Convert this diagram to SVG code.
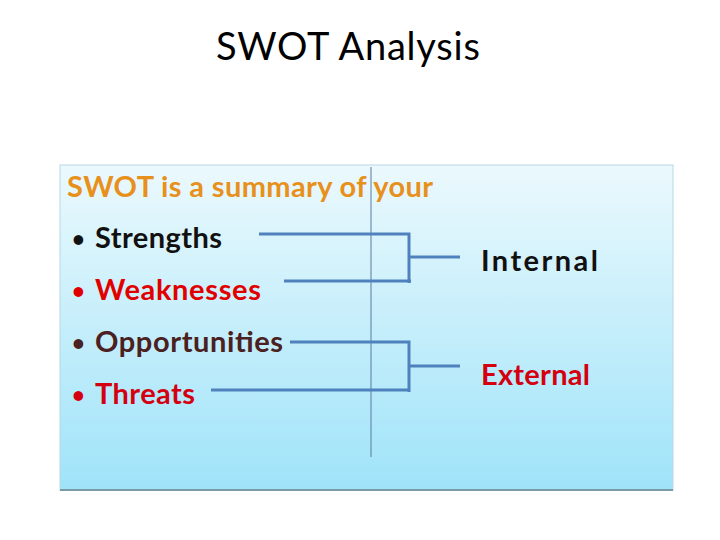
<svg xmlns="http://www.w3.org/2000/svg" width="720" height="540" viewBox="0 0 720 540">
<defs>
<linearGradient id="bg" x1="0" y1="0" x2="0" y2="1">
<stop offset="0" stop-color="#ebf9fd"/>
<stop offset="1" stop-color="#9fe3f9"/>
</linearGradient>
<style>
text{font-family:Lato,"Open Sans","Liberation Sans",sans-serif}
.b{font-weight:bold;font-size:29px}
.d{font-size:22px}
.c{fill:none;stroke:#4f81bd;stroke-width:3}
</style>
</defs>
<rect width="720" height="540" fill="#fff"/>
<text x="216" y="60" font-size="38" fill="#000" textLength="264">SWOT Analysis</text>
<g id="box">
<rect x="60" y="165" width="613" height="325" fill="url(#bg)" stroke="#b8d8e4" stroke-width="1"/>
<line x1="60" y1="490" x2="673" y2="490" stroke="#7a9aa6" stroke-width="2"/>
<line x1="371" y1="167" x2="371" y2="457" stroke="#5a7aa0" stroke-width="1"/>
</g>
<text class="b" x="67" y="197" font-size="27" fill="#e8901c" textLength="366">SWOT is a summary of your</text>
<g id="strengths"><text class="b d" x="72" y="247" fill="#111">•</text><text class="b" x="95" y="248" fill="#111" textLength="127">Strengths</text></g>
<g id="weaknesses"><text class="b d" x="72" y="299" fill="#e00000">•</text><text class="b" x="95" y="300" fill="#e00000" textLength="166">Weaknesses</text></g>
<g id="opportunities"><text class="b d" x="72" y="351" fill="#4a2020">•</text><text class="b" x="95" y="352" fill="#4a2020" textLength="188">Opportunities</text></g>
<g id="threats"><text class="b d" x="72" y="403" fill="#d40010">•</text><text class="b" x="95" y="404" fill="#d40010" textLength="100">Threats</text></g>
<g id="internal"><text class="b" x="481" y="271" font-size="30" fill="#111" textLength="117">Internal</text></g>
<g id="external"><text class="b" x="481" y="385" font-size="27" fill="#d40010" textLength="109">External</text></g>
<g id="connectors" class="c">
<path class="c" d="M259 234H409V283M284 281H411M409 257H460"/>
<path class="c" d="M290 342H409V392M211 390H409M409 366H460"/>
</g>
</svg>
